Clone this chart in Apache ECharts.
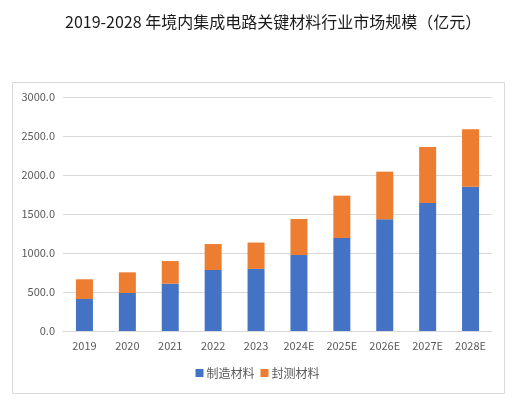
<!DOCTYPE html>
<html><head><meta charset="utf-8">
<script src="https://cdn.jsdelivr.net/npm/echarts@6/dist/echarts.min.js"></script>
<style>html,body{margin:0;padding:0;background:#fff;}#c{width:515px;height:410px;}</style>
</head><body><div id="c"></div>
<script>
const categories = ['2019','2020','2021','2022','2023','2024E','2025E','2026E','2027E','2028E'];
const manufacturing = [410, 487, 607, 782, 797, 974, 1192, 1432, 1641, 1850];
const packaging = [253, 265, 290, 333, 337, 462, 543, 611, 718, 736];
const seriesNames = ['制造材料', '封测材料'];
const titleText = '2019-2028 年境内集成电路关键材料行业市场规模（亿元）';

const font = '"Noto Sans CJK SC", "Noto Sans", sans-serif';
const chart = echarts.init(document.getElementById('c'));
chart.setOption({
  backgroundColor: '#fff',
  animation: false,
  textStyle: { fontFamily: font },
  title: {
    text: titleText, left: 60, top: 9,
    textStyle: { fontSize: 16, fontWeight: 'normal', color: '#1a1a1a', fontFamily: font }
  },
  graphic: [{
    type: 'rect', left: 12, top: 82, z: -1,
    shape: { width: 492, height: 311 },
    style: { fill: '#fff', stroke: '#d9d9d9', lineWidth: 1 }
  }],
  legend: {
    data: seriesNames, bottom: 26, left: 'center',
    itemWidth: 8, itemHeight: 8, itemGap: 6, icon: 'rect',
    textStyle: { fontSize: 12, color: '#595959', fontFamily: font, padding: [0,0,0,-2] }
  },
  grid: { left: 63, right: 23, top: 97, bottom: 79 },
  xAxis: {
    type: 'category', data: categories,
    axisLine: { lineStyle: { color: '#d9d9d9' } },
    axisTick: { show: false },
    axisLabel: { color: '#595959', fontSize: 11, margin: 9, fontFamily: font }
  },
  yAxis: {
    type: 'value', min: 0, max: 3000, interval: 500,
    axisLine: { show: false }, axisTick: { show: false },
    splitLine: { lineStyle: { color: '#d9d9d9' } },
    axisLabel: { color: '#595959', fontSize: 11, margin: 8, formatter: v => v.toFixed(1), fontFamily: font }
  },
  series: [
    { name: seriesNames[0], type: 'bar', stack: 't', data: manufacturing, barWidth: 17, itemStyle: { color: '#4472C4' } },
    { name: seriesNames[1], type: 'bar', stack: 't', data: packaging, barWidth: 17, itemStyle: { color: '#ED7D31' } }
  ]
});
</script></body></html>
